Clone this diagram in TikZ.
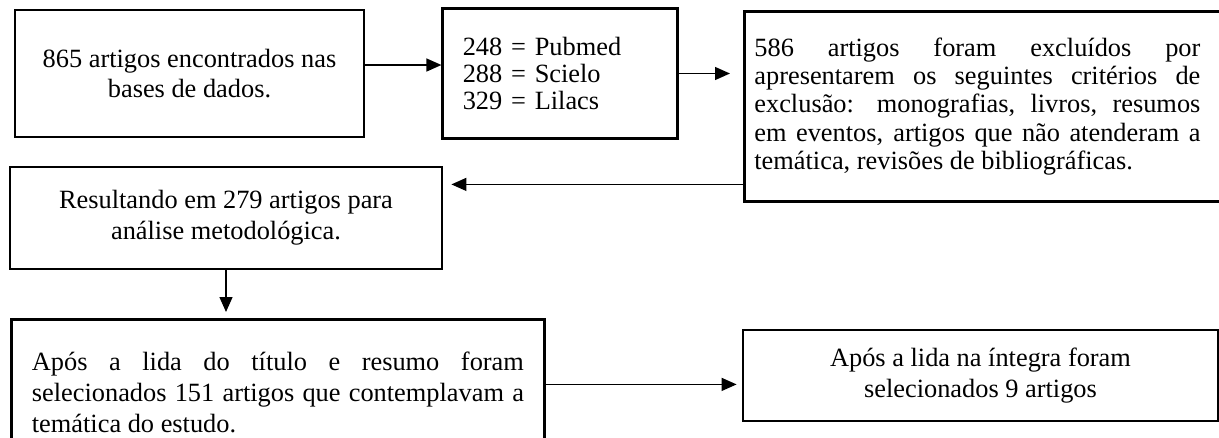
\documentclass[tikz,border=0pt]{standalone}
\usepackage{fontspec}
\setmainfont{Liberation Serif}
\usepackage{tikz}
\usetikzlibrary{arrows.meta, positioning, calc}

\begin{document}
\begin{tikzpicture}[
    box/.style={rectangle, draw=black, line width=1.6pt, inner sep=0pt, align=center, font=\fontsize{15}{17.5}\selectfont},
    arrow/.style={->, >={Triangle[length=0.3cm, width=0.26cm]}, line width=0.8pt}
]
    \useasboundingbox (0,0) rectangle (24.38,-8.74);

    \node (busca) [box, minimum width=6.98cm, minimum height=2.54cm] at (3.79,-1.47) {865 artigos encontrados nas\\bases de dados.};

    \node (bases) [box, right=1.52cm of busca, align=left, text width=3.9cm, inner xsep=0.4cm, minimum height=2.6cm, font=\fontsize{15}{15.5}\selectfont] {248 = Pubmed\\288 = Scielo\\329 = Lilacs};

    \node (excl) [box, anchor=north west, inner xsep=0.2cm, minimum height=3.8cm, font=\fontsize{15}{16.1}\selectfont] at (14.86,-0.2) {\parbox{8.92cm}{586 artigos foram excluídos por\linebreak apresentarem os seguintes critérios de\linebreak exclusão: monografias, livros, resumos\linebreak em eventos, artigos que não atenderam a\linebreak temática, revisões de bibliográficas.}\hspace*{0.6cm}};

    \node (result) [box, minimum width=8.64cm, minimum height=2.04cm] at (4.52,-4.36) {Resultando em 279 artigos para\\análise metodológica.};

    \node (leitura) [box, anchor=north west, text width=9.84cm, align=justify, inner xsep=0.41cm, minimum height=2.92cm] at (0.2,-6.36) {Após a lida do título e resumo foram\linebreak selecionados 151 artigos que contemplavam a\linebreak temática do estudo.};

    \node (final) [box, minimum width=9.5cm, minimum height=1.82cm] at (19.61,-7.51) {Após a lida na íntegra foram\\selecionados 9 artigos};

    \coordinate (cd) at ([yshift=-1.56cm]excl.west);
    \coordinate (ef) at ([yshift=0.16cm]leitura.east);

    \draw[arrow] ([yshift=0.17cm]busca.east) -- ([yshift=0.17cm]busca.east -| bases.west);
    \draw[arrow] (bases.east) -- ([xshift=-0.26cm]bases.east -| excl.west);
    \draw[arrow] (cd) -- ([xshift=0.16cm]result.east |- cd);
    \draw[arrow] (result.south) -- ([yshift=0.12cm]result.south |- leitura.north);
    \draw[arrow] (ef) -- ([xshift=-0.1cm]final.west |- ef);
\end{tikzpicture}
\end{document}
